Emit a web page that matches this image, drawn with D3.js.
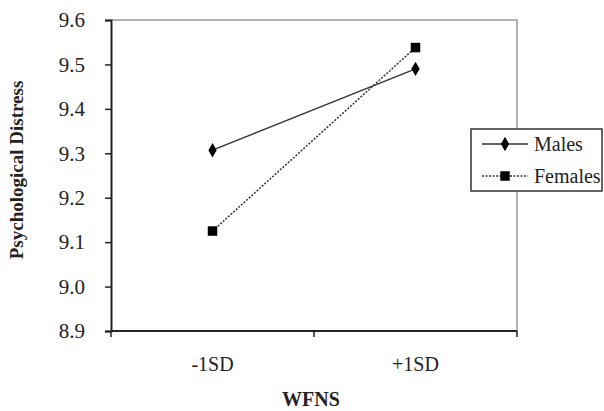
<!DOCTYPE html>
<html>
<head>
<meta charset="utf-8">
<script src="https://cdn.jsdelivr.net/npm/d3@7"></script>
<style>
  body { margin: 0; background: #fff; }
  svg text { font-family: "Times New Roman", Times, "Liberation Serif", Tinos, "DejaVu Serif", "Noto Serif", serif !important; fill: #222; }
</style>
</head>
<body>
<div class="canvas"></div>
<script>
// data
const categories = ['-1SD', '+1SD']
const males = [9.307, 9.49]
const females = [9.125, 9.538]
const yTicks = [8.9, 9.0, 9.1, 9.2, 9.3, 9.4, 9.5, 9.6]
const seriesNames = ['Males', 'Females']

const svg = d3.select('.canvas')
  .append('svg')
    .attr('width', 604)
    .attr('height', 411)

const margin = { top: 20, left: 111 }
const graphWidth = 406
const graphHeight = 311

const graph = svg.append('g')
  .attr('transform', `translate(${margin.left},${margin.top})`)

const x = d3.scaleBand()
  .domain(categories)
  .range([0, graphWidth])

const y = d3.scaleLinear()
  .domain([8.9, 9.6])
  .range([graphHeight, 0])

// plot frame (top/right in grey)
graph.append('path')
  .attr('d', `M0,0H${graphWidth}V${graphHeight}`)
  .attr('fill', 'none')
  .attr('stroke', '#999')
  .attr('stroke-width', 1.5)

// axes
const yAxis = d3.axisLeft(y)
  .tickValues(yTicks)
  .tickFormat(d3.format('.1f'))
  .tickSize(6)
  .tickPadding(20)

const yAxisGroup = graph.append('g').call(yAxis)
yAxisGroup.select('.domain').attr('stroke', '#222').attr('stroke-width', 2)
yAxisGroup.selectAll('.tick line').attr('stroke', '#222').attr('stroke-width', 1.5)
yAxisGroup.selectAll('.tick text')
  .attr('x', -26)
  .attr('text-anchor', 'end')
  .style('font-size', '21px')
  .attr('fill', '#333')

const xAxisGroup = graph.append('g')
  .attr('transform', `translate(0,${graphHeight})`)

// x axis line with ticks at band edges
xAxisGroup.append('line')
  .attr('x1', 0).attr('x2', graphWidth)
  .attr('stroke', '#222').attr('stroke-width', 2)

const edges = categories.map(c => x(c)).concat([x(categories[categories.length - 1]) + x.bandwidth()])
xAxisGroup.selectAll('.edge')
  .data(edges)
  .enter()
  .append('line')
    .attr('x1', d => d).attr('x2', d => d)
    .attr('y1', 0).attr('y2', 6)
    .attr('stroke', '#222').attr('stroke-width', 1.5)

xAxisGroup.selectAll('.cat')
  .data(categories)
  .enter()
  .append('text')
    .attr('x', d => x(d) + x.bandwidth() / 2)
    .attr('y', 40)
    .attr('text-anchor', 'middle')
    .style('font-size', '20px')
    .text(d => d)

// axis titles
svg.append('text')
  .attr('x', 311)
  .attr('y', 406)
  .attr('text-anchor', 'middle')
  .style('font-weight', 'bold')
  .style('font-size', '20px')
  .text('WFNS')

svg.append('text')
  .attr('transform', 'translate(23,170) rotate(-90)')
  .attr('text-anchor', 'middle')
  .style('font-weight', 'bold')
  .style('font-size', '19px')
  .text('Psychological Distress')

// lines
const cx = (d, i) => x(categories[i]) + x.bandwidth() / 2
const line = d3.line()
  .x(cx)
  .y(d => y(d))

graph.append('path')
  .datum(males)
  .attr('d', line)
  .attr('fill', 'none')
  .attr('stroke', '#333')
  .attr('stroke-width', 1.5)

graph.append('path')
  .datum(females)
  .attr('d', line)
  .attr('fill', 'none')
  .attr('stroke', '#333')
  .attr('stroke-width', 1.5)
  .attr('stroke-dasharray', '2,1.5')

const diamond = d3.symbol().type(d3.symbolDiamond).size(60)
const square = d3.symbol().type(d3.symbolSquare).size(90)

graph.selectAll('.male')
  .data(males)
  .enter()
  .append('path')
    .attr('d', diamond)
    .attr('transform', (d, i) => `translate(${cx(d, i)},${y(d)})`)
    .attr('fill', '#000')

graph.selectAll('.female')
  .data(females)
  .enter()
  .append('path')
    .attr('d', square)
    .attr('transform', (d, i) => `translate(${cx(d, i)},${y(d)})`)
    .attr('fill', '#000')

// legend
const legend = svg.append('g')
  .attr('transform', 'translate(471,129)')

legend.append('rect')
  .attr('width', 131)
  .attr('height', 62)
  .attr('fill', '#fff')
  .attr('stroke', '#333')
  .attr('stroke-width', 1.5)

const items = legend.selectAll('.item')
  .data(seriesNames)
  .enter()
  .append('g')
    .attr('transform', (d, i) => `translate(0,${15 + i * 32})`)

items.append('line')
  .attr('x1', 11).attr('x2', 57)
  .attr('stroke', '#333')
  .attr('stroke-width', 1.5)
  .attr('stroke-dasharray', (d, i) => i ? '2,1.5' : null)

items.append('path')
  .attr('d', (d, i) => i ? square() : diamond())
  .attr('transform', 'translate(34,0)')
  .attr('fill', '#000')

items.append('text')
  .attr('x', 63)
  .attr('y', 7)
  .style('font-size', '20px')
  .text(d => d)
</script>
</body>
</html>
